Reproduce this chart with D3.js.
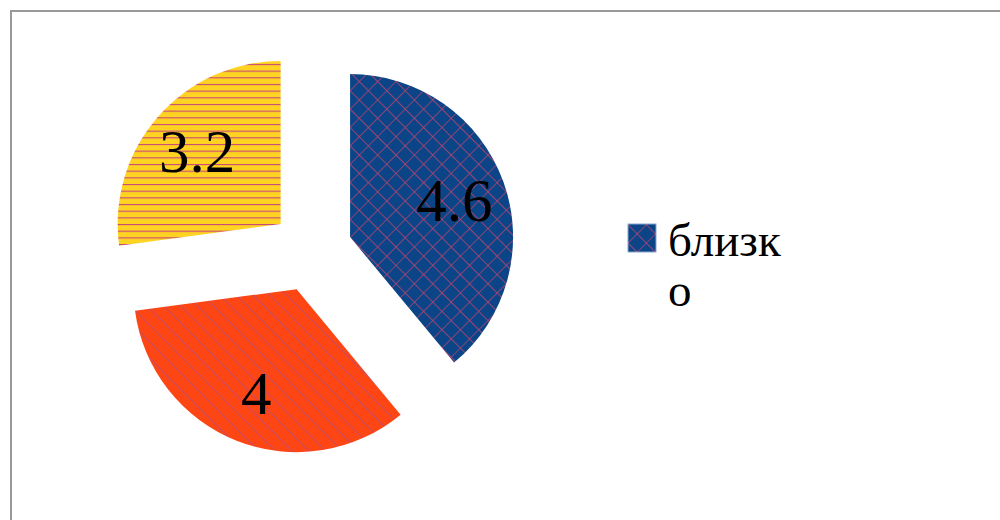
<!DOCTYPE html>
<html>
<head>
<meta charset="utf-8">
<script src="https://cdn.jsdelivr.net/npm/d3@7"></script>
<style>
  body { margin: 0; background: #fff; }
  svg { display: block; }
</style>
</head>
<body>
<div id="chart"></div>
<script>
// slice values, in drawing order (clockwise from 12 o'clock)
var values = [4.6, 4, 3.2];
var labels = ["4.6", "4", "3.2"];
// only the first legend entry fits in the frame
var legendNames = ["близко"];

var fills = ["#0b4587", "#fe4514", "#ffd322"];
var hatchColors = ["#c9436f", "#9a50a2", "#c8487a"];

var width = 1000, height = 520;
var cx = 311.5, cy = 251, radius = 163, explode = 41;

var svg = d3.select("#chart")
  .append("svg")
  .attr("width", width)
  .attr("height", height);

// frame (runs off right and bottom edges)
svg.append("rect")
  .attr("x", 11)
  .attr("y", 11)
  .attr("width", 1000)
  .attr("height", 600)
  .attr("fill", "none")
  .attr("stroke", "#999")
  .attr("stroke-width", 2);

var defs = svg.append("defs");

// crosshatch for blue slice
var p0 = defs.append("pattern")
  .attr("id", "pat0")
  .attr("patternUnits", "userSpaceOnUse")
  .attr("width", 13)
  .attr("height", 13)
  .attr("patternTransform", "rotate(45)");
p0.append("rect").attr("width", 13).attr("height", 13).attr("fill", fills[0]);
p0.append("path")
  .attr("d", "M0,0V13M0,0H13")
  .attr("stroke", hatchColors[0])
  .attr("stroke-width", 1.3);

// diagonal lines for orange slice
var p1 = defs.append("pattern")
  .attr("id", "pat1")
  .attr("patternUnits", "userSpaceOnUse")
  .attr("width", 11.8)
  .attr("height", 11.8)
  .attr("patternTransform", "rotate(-45)");
p1.append("rect").attr("width", 11.8).attr("height", 11.8).attr("fill", fills[1]);
p1.append("path")
  .attr("d", "M0,0V11.8")
  .attr("stroke", hatchColors[1])
  .attr("stroke-width", 1.2);

// horizontal lines for yellow slice
var p2 = defs.append("pattern")
  .attr("id", "pat2")
  .attr("patternUnits", "userSpaceOnUse")
  .attr("width", 20)
  .attr("height", 6.67);
p2.append("rect").attr("width", 20).attr("height", 6.67).attr("fill", fills[2]);
p2.append("path")
  .attr("d", "M0,0.5H20")
  .attr("stroke", hatchColors[2])
  .attr("stroke-width", 1.2);

var pie = d3.pie().sort(null).value(function (d) { return d; });
var arcs = pie(values);

var arc = d3.arc().innerRadius(0).outerRadius(radius);
var labelArc = d3.arc().innerRadius(radius * 0.68).outerRadius(radius * 0.68);

var g = svg.append("g").attr("transform", "translate(" + cx + "," + cy + ")");

var slices = g.selectAll(".slice")
  .data(arcs)
  .enter()
  .append("g")
  .attr("class", "slice")
  .attr("transform", function (d) {
    var a = (d.startAngle + d.endAngle) / 2;
    return "translate(" + explode * Math.sin(a) + "," + (-explode * Math.cos(a)) + ")";
  });

slices.append("path")
  .attr("d", arc)
  .attr("fill", function (d, i) { return "url(#pat" + i + ")"; });

slices.append("text")
  .attr("transform", function (d) {
    var c = labelArc.centroid(d);
    return "translate(" + c[0] + "," + c[1] + ")";
  })
  .attr("text-anchor", "middle")
  .attr("dy", "0.35em")
  .attr("font-family", "'Liberation Serif', 'DejaVu Serif', serif")
  .attr("font-size", 61)
  .attr("fill", "#000")
  .text(function (d, i) { return labels[i]; });

// legend
var legend = svg.append("g").attr("transform", "translate(628,224)");

legend.append("rect")
  .attr("width", 28)
  .attr("height", 28)
  .attr("fill", "url(#pat0)")
  .attr("stroke", "#8aa6d0")
  .attr("stroke-width", 1);

legend.append("text")
  .attr("x", 40)
  .attr("y", 32)
  .attr("font-family", "'Liberation Serif', 'DejaVu Serif', serif")
  .attr("font-size", 47)
  .attr("fill", "#000")
  .selectAll("tspan")
  .data([legendNames[0].slice(0, 5), legendNames[0].slice(5)])
  .enter()
  .append("tspan")
  .attr("x", 40)
  .attr("dy", function (d, i) { return i ? 50 : 0; })
  .text(function (d) { return d; });
</script>
</body>
</html>
